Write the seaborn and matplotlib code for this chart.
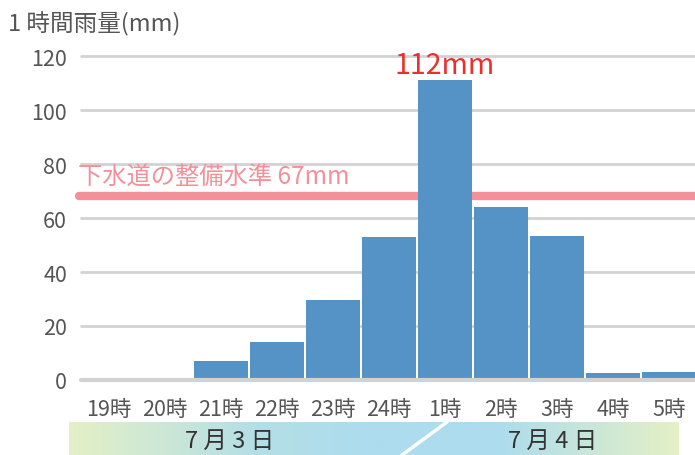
import numpy as np
import pandas as pd
import matplotlib.pyplot as plt
import seaborn as sns
from matplotlib.colors import LinearSegmentedColormap

# --- データ ---
HOURS = ["19時", "20時", "21時", "22時", "23時", "24時", "1時", "2時", "3時", "4時", "5時"]
RAIN_MM = [0, 0, 7, 14, 29.5, 53, 111, 64, 53.5, 2.5, 3]
PEAK_LABEL = "112mm"
PEAK_INDEX = 6
STANDARD_MM = 68
STANDARD_LABEL = "下水道の整備水準 67mm"
DATE_LABELS = ["7 月 3 日", "7 月 4 日"]
Y_TICKS = [0, 20, 40, 60, 80, 100, 120]

# --- スタイル ---
BAR_COLOR = "#5593c6"
GRID_COLOR = "#d2d2d2"
TEXT_COLOR = "#555555"
PINK = "#f4909a"
RED = "#e8312e"

sns.set_style("white")
plt.rcParams["font.family"] = ["Noto Sans CJK JP", "DejaVu Sans"]


def main():
    df = pd.DataFrame({"hour": HOURS, "rain": RAIN_MM})

    fig = plt.figure(figsize=(6.95, 4.56), dpi=100)
    ax = fig.add_axes([81 / 695, 1 - 381 / 456, 616 / 695, (381 - 57) / 456])

    sns.barplot(data=df, x="hour", y="rain", color=BAR_COLOR, width=0.95,
                saturation=1, ax=ax, zorder=3, edgecolor="none")

    ax.set_xlim(-0.5, len(HOURS) - 0.5)
    ax.set_ylim(0, 120)
    ax.set_xlabel("")
    ax.set_ylabel("")

    # 横グリッド
    for v in Y_TICKS[1:]:
        ax.axhline(v, color=GRID_COLOR, lw=2, zorder=1, clip_on=False)
    ax.axhline(0, color=GRID_COLOR, lw=3, zorder=4, clip_on=False)

    # 下水道の整備水準ライン
    ax.plot([-0.53, len(HOURS) - 0.5], [STANDARD_MM, STANDARD_MM], color=PINK,
            lw=6, solid_capstyle="round", zorder=2, clip_on=False)
    ax.text(-0.55, STANDARD_MM + 2.5, STANDARD_LABEL, color=PINK, fontsize=17.5,
            ha="left", va="bottom", zorder=2)

    # ピーク値ラベル
    ax.text(PEAK_INDEX, 116.5, PEAK_LABEL, color=RED, fontsize=20.5,
            ha="center", va="center", zorder=5)

    for s in ax.spines.values():
        s.set_visible(False)

    ax.set_yticks(Y_TICKS)
    ax.tick_params(axis="y", length=0, pad=10, labelsize=15.5, labelcolor=TEXT_COLOR)
    ax.set_xticks(range(len(HOURS)))
    ax.set_xticklabels(HOURS)
    ax.tick_params(axis="x", which="major", length=0, pad=13, labelsize=15.5,
                   labelcolor=TEXT_COLOR)
    ax.set_xticks(np.arange(-0.5, len(HOURS), 1), minor=True)
    ax.tick_params(axis="x", which="minor", direction="inout", length=13,
                   width=2.5, color=GRID_COLOR)

    fig.text(8 / 695, 1 - 24 / 456, "1 時間雨量(mm)", color=TEXT_COLOR,
             fontsize=17, ha="left", va="center")

    # 日付帯
    band = fig.add_axes([69 / 695, 0, (679 - 69) / 695, (456 - 423) / 456])
    cmap = LinearSegmentedColormap.from_list(
        "band", [(0, "#e4f0c6"), (0.3, "#b5dfe6"), (0.5, "#acdcee"),
                 (0.7, "#acdcee"), (1, "#e4f0c6")])
    band.imshow(np.linspace(0, 1, 256)[None, :], aspect="auto", cmap=cmap,
                extent=[0, 1, 0, 1])
    band.set_xlim(0, 1)
    band.set_ylim(0, 1)
    band.axis("off")
    x0 = (402 - 69) / 610
    x1 = (447 - 69) / 610
    band.plot([x0, x1], [0, 1], color="white", lw=2.5)
    band.text((230 - 69) / 610, 0.45, DATE_LABELS[0], fontsize=17,
              color="#333333", ha="center", va="center")
    band.text((553 - 69) / 610, 0.45, DATE_LABELS[1], fontsize=17,
              color="#333333", ha="center", va="center")

    fig.savefig("out.png", dpi=100)
    plt.close(fig)


if __name__ == "__main__":
    main()
